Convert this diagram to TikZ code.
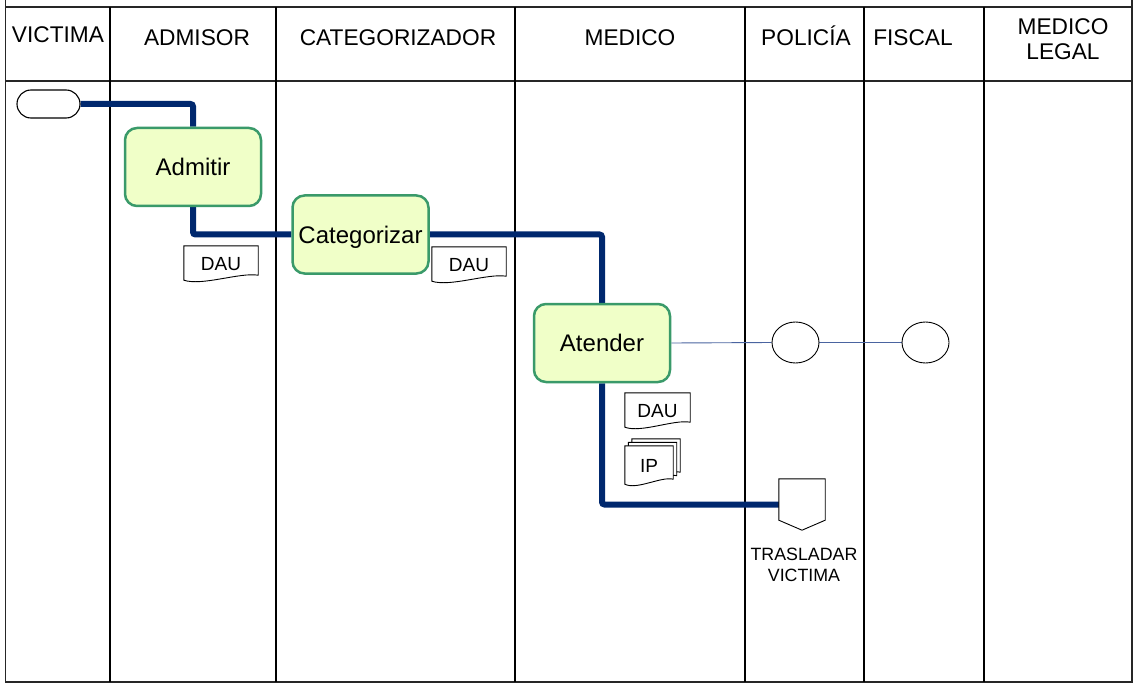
\documentclass[tikz,border=0pt]{standalone}
\usepackage{fontspec}
\setmainfont{Liberation Sans}
\usetikzlibrary{calc,shapes.geometric,shapes.misc}
\definecolor{navy}{HTML}{00286E}
\definecolor{taskfill}{HTML}{F0FFC8}
\definecolor{taskborder}{HTML}{3A9A6A}
\definecolor{thinblue}{HTML}{4A64A0}
\pgfdeclarelayer{bg}
\pgfdeclarelayer{mid}
\pgfsetlayers{bg,mid,main}
\newcommand\docpath[2][0]{%
  \path[docline] ($(#2.north west)+(#1,-#1)$) -- ($(#2.north east)+(#1,-#1)$) -- ($(#2.south east)+(#1,-6-#1)$)
   .. controls ($(#2.south east)!0.5!(#2.south)+(#1,-9-#1)$) and ($(#2.south west)!0.5!(#2.south)+(#1,5-#1)$)
   .. ($(#2.south west)+(#1,-1-#1)$) -- cycle;}
\begin{document}
\begin{tikzpicture}[x=1pt,y=-1pt,
  frameline/.style={line width=1.8pt,black!85},
  laneline/.style={line width=1.3pt,black},
  hdr/.style={font=\fontsize{22.7}{25}\selectfont, align=center, inner sep=0pt},
  task/.style={draw=taskborder, fill=taskfill, line width=2.5pt, rounded corners=12pt,
    minimum width=136pt, minimum height=78pt, inner sep=0pt, text depth=0pt,
    font=\fontsize{24}{28}\selectfont},
  flow/.style={draw=navy, line width=6pt, rounded corners=2.5pt},
  thinflow/.style={draw=thinblue, line width=0.9pt},
  docbox/.style={minimum height=35pt, inner sep=0pt, text depth=0pt, font=\fontsize{19}{20}\selectfont},
  docline/.style={draw=black, line width=0.9pt, fill=white},
  event/.style={draw=black, line width=0.9pt, fill=white, ellipse, minimum width=47pt, minimum height=41pt, inner sep=0pt},
  term/.style={draw=black, line width=1.1pt, fill=white, rounded rectangle, minimum width=63pt, minimum height=28pt, inner sep=0pt},
  smalltxt/.style={font=\fontsize{17.8}{21}\selectfont, align=center, inner sep=0pt}]
\useasboundingbox (0,0) rectangle (1135,687);

% headers
\node[hdr, anchor=base] (hVic) at (58,43) {VICTIMA};
\node[hdr, anchor=base] (hAdm) at (197,46) {ADMISOR};
\node[hdr, anchor=base] (hCat) at (398,46) {CATEGORIZADOR};
\node[hdr, anchor=base] (hMed) at (630,46) {MEDICO};
\node[hdr, anchor=base] (hPol) at (806,46) {POLICÍA};
\node[hdr, anchor=base] (hFis) at (913,46) {FISCAL};
\node[hdr] (hML) at (1063,39) {MEDICO\\LEGAL};

% tasks and events
\node[term] (start) at (48.5,104) {};
\node[task] (adm) at (193,167) {Admitir};
\node[task] (cat) at (360.5,234.5) {Categorizar};
\node[task] (ate) at (602,343) {Atender};
\node[event] (e1) at (795.5,342.5) {};
\node[event] (e2) at (925.5,342.5) {};
\node[minimum width=46pt, minimum height=51pt, inner sep=0pt] (off) at (802,504.5) {};
\node[smalltxt] (tras) at (804,565) {TRASLADAR\\VICTIMA};

% documents
\node[docbox, minimum width=74pt] (d1) at (221,263.5) {DAU};
\node[docbox, minimum width=74pt] (d2) at (469,264.5) {DAU};
\node[docbox, minimum width=65pt] (d3) at (657.5,410.5) {DAU};
\node[docbox, minimum width=48pt, minimum height=39pt] (ip) at (649,465.5) {IP};

\begin{pgfonlayer}{mid}
  \docpath{d1}
  \docpath{d2}
  \docpath{d3}
  \docpath[7]{ip}
  \docpath[3.5]{ip}
  \docpath{ip}
  \path[docline] (off.north west) -- (off.north east) -- ($(off.south east)+(0,-10)$)
    -- (off.south) -- ($(off.south west)+(0,-10)$) -- cycle;
\end{pgfonlayer}

\begin{pgfonlayer}{bg}
  % pool frame
  \draw[frameline] (5.5,0) -- (5.5,682) -- (1132,682) -- (1132,0);
  \draw[frameline] (5.5,7) -- (1132,7);
  \draw[frameline] (5.5,81) -- (1132,81);
  \foreach \x in {110,276,515,745,864,984}
    \draw[laneline] (\x,7) -- (\x,682);
  % flows
  \draw[flow] (start.east) -| (adm.north);
  \draw[flow] (adm.south) |- (cat.west);
  \draw[flow] (cat.east) -| (ate.north);
  \draw[flow] (ate.south) |- (off.west);
  \draw[thinflow] (ate.east) -- (e1.west);
  \draw[thinflow] (e1.east) -- (e2.west);
\end{pgfonlayer}
\end{tikzpicture}
\end{document}
